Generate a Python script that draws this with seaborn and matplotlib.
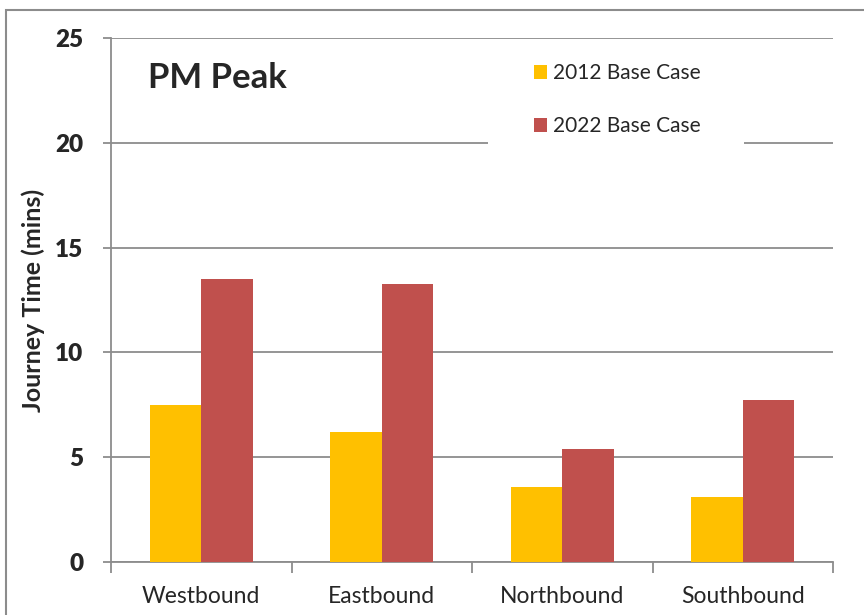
import pandas as pd
import matplotlib.pyplot as plt
import seaborn as sns
from matplotlib.patches import Rectangle
from matplotlib.ticker import FixedLocator

# Datos
directions = ['Westbound', 'Eastbound', 'Northbound', 'Southbound']
base_2012 = [7.48, 6.19, 3.59, 3.09]
base_2022 = [13.50, 13.26, 5.41, 7.74]
series_names = ['2012 Base Case', '2022 Base Case']
y_ticks = [0, 5, 10, 15, 20, 25]

df = pd.DataFrame({
    'Direction': directions * 2,
    'Case': [series_names[0]] * 4 + [series_names[1]] * 4,
    'Time': base_2012 + base_2022,
})

sns.set_theme(style='white')
plt.rcParams['font.family'] = ['Lato', 'DejaVu Sans']

fig = plt.figure(figsize=(8.64, 6.15), dpi=100)
ax = fig.add_axes([111 / 864, 1 - 562 / 615, 722 / 864, 524 / 615])

# Marco exterior del gráfico
fig.patches.append(Rectangle((6 / 864, -0.1), 1.2, 1 - 10 / 615 + 0.1,
                             transform=fig.transFigure, fill=False,
                             edgecolor='#8c8c8c', linewidth=1.5, zorder=0))

sns.barplot(data=df, x='Direction', y='Time', hue='Case', order=directions,
            hue_order=series_names, palette=['#FFC000', '#C0504D'],
            width=0.57, gap=0, ax=ax, saturation=1, linewidth=0, zorder=3)

ax.set_ylim(0, 25)
ax.set_xlim(-0.5, 3.5)
ax.set_yticks(y_ticks, labels=[str(v) for v in y_ticks],
              fontsize=17.5, fontweight='heavy')
ax.yaxis.grid(True, color='#8c8c8c', linewidth=1.3, zorder=0)
ax.set_axisbelow(True)
for side in ['top', 'right']:
    ax.spines[side].set_visible(False)
for side in ['left', 'bottom']:
    ax.spines[side].set_color('#8c8c8c')
    ax.spines[side].set_linewidth(1.3)

ax.tick_params(axis='y', which='major', left=True, length=6, width=1.3,
               color='#8c8c8c', pad=14)
ax.tick_params(axis='x', which='major', bottom=False, labelsize=16.5, pad=11)
ax.xaxis.set_minor_locator(FixedLocator([-0.5, 0.5, 1.5, 2.5, 3.5]))
ax.tick_params(axis='x', which='minor', bottom=True, length=8, width=1.3,
               color='#8c8c8c')

ax.set_xlabel('')
ax.set_ylabel('Journey Time (mins)', fontsize=18, fontweight='bold', labelpad=7)

ax.text(0.051, 0.955, 'PM Peak', transform=ax.transAxes, fontsize=25,
        fontweight='bold', va='top', ha='left')

# Hueco blanco detrás de la leyenda que tapa la línea de 20
ax.add_patch(Rectangle((0.522, 0.78), 0.355, 0.05, transform=ax.transAxes,
                       facecolor='white', edgecolor='none', zorder=2))

leg = ax.legend(loc='upper left', bbox_to_anchor=(0.586, 0.952), frameon=False,
                fontsize=15, handlelength=0.63, handleheight=0.63,
                handletextpad=0.3, labelspacing=1.6, borderpad=0,
                borderaxespad=0)
leg.set_zorder(5)

fig.savefig('out.png', dpi=100)
